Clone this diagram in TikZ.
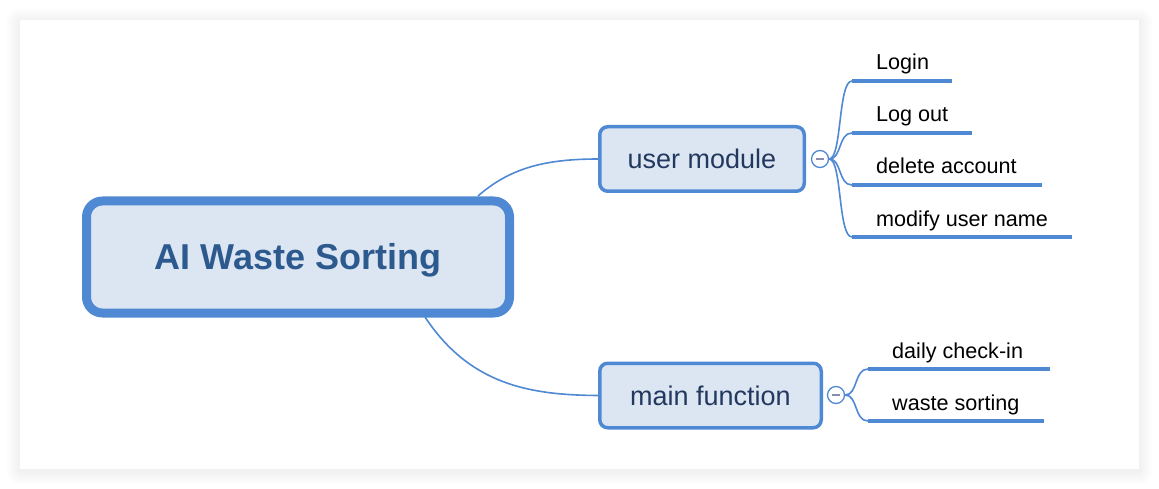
\documentclass[tikz,border=0pt]{standalone}
\usepackage{fontspec}
\setmainfont{Liberation Sans}
\usetikzlibrary{calc}
\definecolor{mblue}{HTML}{5089D3}
\definecolor{mfill}{HTML}{DCE6F2}
\definecolor{mroot}{HTML}{2D5A8E}
\definecolor{mtxt}{HTML}{22385E}
\definecolor{mminus}{HTML}{8A8CB0}
\tikzset{
  x=1pt, y=-1pt,
  rootbox/.style={draw=mblue, fill=mfill, line width=9pt, rounded corners=16pt,
    minimum width=423pt, minimum height=112pt, text=mroot,
    font=\fontsize{36}{40}\selectfont\bfseries, inner sep=0pt,
    text height=25.8pt, text depth=0pt},
  topicbox/.style={draw=mblue, fill=mfill, line width=3.5pt, rounded corners=8pt,
    minimum height=64.5pt, text=mtxt, font=\fontsize{27}{30}\selectfont, inner sep=0pt,
    text height=19.3pt, text depth=0pt},
  conn/.style={draw=mblue, line width=1.6pt},
  uline/.style={draw=mblue, line width=4.5pt},
  leaf/.style={anchor=base west, inner sep=0pt, font=\fontsize{21.6}{25}\selectfont, text=black},
  toggle/.style={circle, draw=mblue, fill=white, line width=1.3pt, minimum size=17pt, inner sep=0pt}
}
\begin{document}
\begin{tikzpicture}
\useasboundingbox (0,0) rectangle (1159,489);
\fill[white] (0,0) rectangle (1159,489);
% panel shadow
\foreach \i in {1,...,14}{
  \fill[black, fill opacity=0.0055, rounded corners=\i pt] (20-\i,20-\i+2) rectangle (1139+\i,469+\i+2);
}
\fill[white] (20,20) rectangle (1139,469);

% nodes
\node[rootbox] (root) at (298,257) {AI Waste Sorting};
\node[topicbox, minimum width=204.5pt] (um) at (702,159) {user module};
\node[topicbox, minimum width=221.5pt] (mf) at (710.5,395.5) {main function};

\node[toggle] (umt) at (820,159) {};
\draw[mminus, line width=1.2pt] ($(umt.center)+(-4,0)$) -- ($(umt.center)+(4,0)$);
\node[toggle] (mft) at (836,395) {};
\draw[mminus, line width=1.2pt] ($(mft.center)+(-4,0)$) -- ($(mft.center)+(4,0)$);

% main connectors
\coordinate (rt) at (478,196);
\coordinate (rb) at (425,317);
\draw[conn] (rt) .. controls (510,168) and (545,159) .. (um.west);
\draw[conn] (rb) .. controls (470,385) and (530,395) .. (mf.west);

% user module leaves
\foreach \n/\t/\y/\e in {a/Login/81/952, b/Log out/133/972, c/delete account/185/1042, d/modify user name/237/1072}{
  \coordinate (s\n) at (852,\y);
  \coordinate (e\n) at (\e,\y);
  \node[leaf] (t\n) at (876,\y-11) {\t};
  \draw[uline] (s\n) -- (e\n);
  \draw[conn] (umt.east) .. controls (842,159) and (838,\y) .. (s\n);
}
% main function leaves
\foreach \n/\t/\y/\e in {f/daily check-in/369/1050, g/waste sorting/421/1044}{
  \coordinate (s\n) at (868,\y);
  \coordinate (e\n) at (\e,\y);
  \node[leaf] (t\n) at (892,\y-11) {\t};
  \draw[uline] (s\n) -- (e\n);
  \draw[conn] (mft.east) .. controls (858,395) and (854,\y) .. (s\n);
}
\end{tikzpicture}
\end{document}
